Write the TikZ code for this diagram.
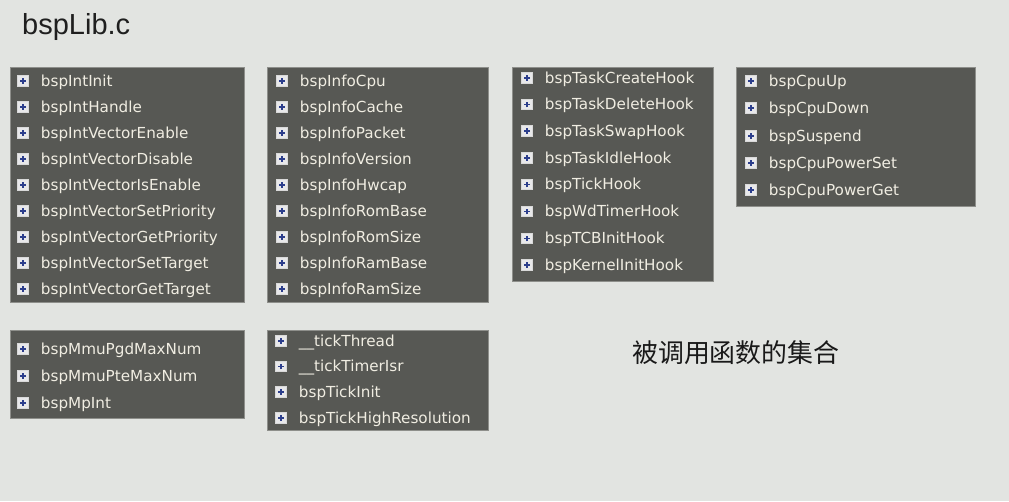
\documentclass[tikz,border=0pt]{standalone}
\usepackage{fontspec}
\setmainfont{DejaVu Sans}
\newfontfamily\titlefont{Liberation Sans}
\newfontfamily\cjkfont{Noto Sans CJK SC}
\definecolor{bgc}{HTML}{E2E4E1}
\definecolor{panelc}{HTML}{575854}
\definecolor{panelb}{HTML}{8E8F8B}
\definecolor{itemc}{HTML}{F0EDE2}
\definecolor{plusc}{HTML}{2C3E8C}
\definecolor{iconc}{HTML}{E8E8EA}
\tikzset{
  panel/.style={fill=panelc, draw=panelb, line width=0.8pt},
  item/.style={anchor=mid west, inner sep=0pt, text=itemc, font=\fontsize{15.2}{17}\selectfont},
  icon/.style={draw=white!70!gray, fill=iconc, minimum size=10.5pt, inner sep=0pt, line width=0.6pt,
    path picture={\draw[plusc, line width=1.2pt]
      ([xshift=-2.8pt]path picture bounding box.center) -- ([xshift=2.8pt]path picture bounding box.center)
      ([yshift=-2.8pt]path picture bounding box.center) -- ([yshift=2.8pt]path picture bounding box.center);}},
}
\newcommand{\entry}[4]{% name, iconx, y, text
  \node[icon] (#1i) at (#2,#3) {};
  \node[item] (#1) at ([xshift=12.2pt,yshift=-2.5pt]#1i.east) {#4};
}
\begin{document}
\begin{tikzpicture}[x=1pt,y=-1pt]
\fill[bgc] (0,0) rectangle (1009,501);
\useasboundingbox (0,0) rectangle (1009,501);
\node[anchor=base west, inner sep=0pt, font=\titlefont\fontsize{29}{31}\selectfont, text=black!88] (title) at (22,34) {bspLib.c};
% panels
\draw[panel] (10,67) rectangle (244,302);
\draw[panel] (267,67) rectangle (488,302);
\draw[panel] (512,67) rectangle (713,281);
\draw[panel] (736,67) rectangle (975,206);
\draw[panel] (10,330) rectangle (244,418);
\draw[panel] (267,330) rectangle (488,430);
% panel A
\entry{a1}{23}{81}{bspIntInit}
\entry{a2}{23}{107}{bspIntHandle}
\entry{a3}{23}{133}{bspIntVectorEnable}
\entry{a4}{23}{159}{bspIntVectorDisable}
\entry{a5}{23}{185}{bspIntVectorIsEnable}
\entry{a6}{23}{211}{bspIntVectorSetPriority}
\entry{a7}{23}{237}{bspIntVectorGetPriority}
\entry{a8}{23}{263}{bspIntVectorSetTarget}
\entry{a9}{23}{289}{bspIntVectorGetTarget}
% panel B
\entry{b1}{282}{81}{bspInfoCpu}
\entry{b2}{282}{107}{bspInfoCache}
\entry{b3}{282}{133}{bspInfoPacket}
\entry{b4}{282}{159}{bspInfoVersion}
\entry{b5}{282}{185}{bspInfoHwcap}
\entry{b6}{282}{211}{bspInfoRomBase}
\entry{b7}{282}{237}{bspInfoRomSize}
\entry{b8}{282}{263}{bspInfoRamBase}
\entry{b9}{282}{289}{bspInfoRamSize}
% panel C
\entry{c1}{527}{78}{bspTaskCreateHook}
\entry{c2}{527}{104.5}{bspTaskDeleteHook}
\entry{c3}{527}{131}{bspTaskSwapHook}
\entry{c4}{527}{158}{bspTaskIdleHook}
\entry{c5}{527}{184.5}{bspTickHook}
\entry{c6}{527}{211.5}{bspWdTimerHook}
\entry{c7}{527}{238.5}{bspTCBInitHook}
\entry{c8}{527}{265}{bspKernelInitHook}
% panel D
\entry{d1}{751}{81}{bspCpuUp}
\entry{d2}{751}{108}{bspCpuDown}
\entry{d3}{751}{136}{bspSuspend}
\entry{d4}{751}{163}{bspCpuPowerSet}
\entry{d5}{751}{190}{bspCpuPowerGet}
% panel E
\entry{e1}{23}{349}{bspMmuPgdMaxNum}
\entry{e2}{23}{376}{bspMmuPteMaxNum}
\entry{e3}{23}{403}{bspMpInt}
% panel F
\entry{f1}{281}{341}{\_\_tickThread}
\entry{f2}{281}{366.5}{\_\_tickTimerIsr}
\entry{f3}{281}{392}{bspTickInit}
\entry{f4}{281}{418}{bspTickHighResolution}
% note
\node[anchor=west, inner sep=0pt, font=\cjkfont\fontsize{25.9}{28}\selectfont, text=black!90] (note) at (632,353) {被调用函数的集合};
\end{tikzpicture}
\end{document}
